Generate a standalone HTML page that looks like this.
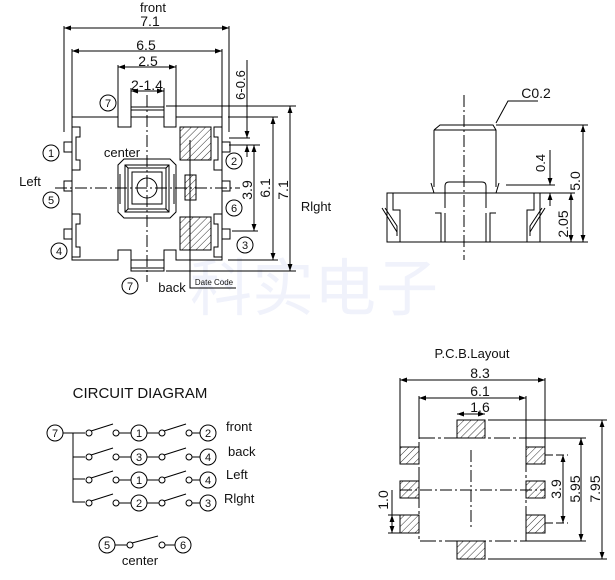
<!DOCTYPE html>
<html><head><meta charset="utf-8"><style>
html,body{margin:0;padding:0;background:#fff}
svg{display:block}
text{font-family:"Liberation Sans","Noto Sans CJK SC",sans-serif;fill:#111}
</style></head><body>
<svg width="615" height="580" viewBox="0 0 615 580" xmlns="http://www.w3.org/2000/svg">
<defs>
<marker id="a" viewBox="0 0 10 10" refX="10" refY="5" markerWidth="7" markerHeight="7" orient="auto-start-reverse"><path d="M0,1.5 L10,5 L0,8.5 z" fill="#000"/></marker>
<pattern id="h" width="5" height="5" patternUnits="userSpaceOnUse" patternTransform="rotate(45)"><rect width="5" height="5" fill="#fff"/><line x1="0" y1="0" x2="0" y2="5" stroke="#333" stroke-width="1"/></pattern>
</defs>
<text x="190" y="310" font-size="62" style="fill:#f0f2fb">科实电子</text>

<g stroke="#000" stroke-width="1" fill="none">
<line x1="64" y1="28" x2="229" y2="28" marker-start="url(#a)" marker-end="url(#a)"/>
<line x1="64" y1="26" x2="64" y2="132"/><line x1="229" y1="26" x2="229" y2="132"/>
<line x1="72" y1="51" x2="222" y2="51" marker-start="url(#a)" marker-end="url(#a)"/>
<line x1="72" y1="49" x2="72" y2="117"/><line x1="222" y1="49" x2="222" y2="117"/>
<line x1="118" y1="67" x2="176" y2="67" marker-start="url(#a)" marker-end="url(#a)"/>
<line x1="118" y1="65" x2="118" y2="117"/><line x1="176" y1="65" x2="176" y2="117"/>
<line x1="131" y1="91" x2="164" y2="91" marker-start="url(#a)" marker-end="url(#a)"/>
<line x1="131" y1="88" x2="131" y2="107"/><line x1="164" y1="88" x2="164" y2="107"/>
<path d="M72,117 H118 V127 H131 V117 H164 V127 H176 V117 H222 V260 H176 V250 H164 V260 H131 V250 H118 V260 H72 Z"/>
<path d="M131,117 V107 H164 V117 M131,260 V271 H164 V260"/>
<line x1="131" y1="110" x2="164" y2="110"/><line x1="131" y1="268" x2="164" y2="268"/>
<path d="M72,127 H80 V137 H76 V160 H80 V170 H72"/>
<path d="M72,214 H80 V224 H76 V247 H80 V257 H72"/>
<rect x="64" y="142" width="8" height="10"/><rect x="64" y="229" width="8" height="10"/><rect x="64" y="181" width="8" height="10"/>
<path d="M222,127 H214 V137 H218 V160 H214 V170 H222"/>
<path d="M222,214 H214 V224 H218 V247 H214 V257 H222"/>
<rect x="222" y="142" width="8" height="10"/><rect x="222" y="229" width="8" height="10"/><rect x="222" y="181" width="8" height="10"/>
<rect x="180" y="127" width="31" height="33" fill="url(#h)"/>
<rect x="180" y="217" width="31" height="33" fill="url(#h)"/>
<rect x="185" y="175" width="11" height="25" fill="url(#h)"/>
<path d="M124,159 H170 L176,165 V212 L170,218 H124 L118,212 V165 Z"/>
<rect x="125" y="165" width="44" height="47"/>
<path d="M128,168 H166 V209 H128 Z M125,165 L128,168 M169,165 L166,168 M125,212 L128,209 M169,212 L166,209"/>
<rect x="132" y="172" width="30" height="32"/>
<circle cx="147" cy="188" r="10"/>
<line x1="120" y1="174" x2="120" y2="204"/><line x1="174" y1="174" x2="174" y2="204"/>
<line x1="55" y1="188" x2="240" y2="188" stroke-dasharray="12,3,2,3"/>
<line x1="147" y1="95" x2="147" y2="282" stroke-dasharray="12,3,2,3"/>
<path d="M190,140 V288 H236"/>
<line x1="229" y1="138" x2="250" y2="138"/><line x1="229" y1="145" x2="260" y2="145"/>
<line x1="247" y1="60" x2="247" y2="138" marker-end="url(#a)"/>
<line x1="247" y1="157" x2="247" y2="145" marker-end="url(#a)"/>
<line x1="254" y1="145" x2="254" y2="231" marker-start="url(#a)" marker-end="url(#a)"/>
<line x1="232" y1="231" x2="258" y2="231"/>
<line x1="228" y1="117" x2="278" y2="117"/><line x1="228" y1="260" x2="278" y2="260"/>
<line x1="273" y1="117" x2="273" y2="260" marker-start="url(#a)" marker-end="url(#a)"/>
<line x1="166" y1="106" x2="296" y2="106"/><line x1="166" y1="271" x2="296" y2="271"/>
<line x1="290" y1="106" x2="290" y2="271" marker-start="url(#a)" marker-end="url(#a)"/>
<circle cx="108" cy="103" r="8"/><circle cx="51" cy="153" r="8"/><circle cx="51" cy="200" r="8"/>
<circle cx="59" cy="251" r="8"/><circle cx="130" cy="286" r="8"/><circle cx="234" cy="161" r="8"/>
<circle cx="234" cy="208" r="8"/><circle cx="245" cy="245" r="8"/>

<path d="M434,130 L440,125 H493 L496,130 V187 M434,130 V187 M434,130 H496"/>
<path d="M387,193 H540 V242 H387 Z"/>
<path d="M445,208 V186 Q445,182 449,182 H482 Q486,182 486,186 V208"/>
<path d="M393,193 V210 H400 V242 M534,193 V210 H527 V242"/>
<path d="M385,208 L397,226 V236 M542,208 L530,226 V236 M382,208 L397,232 M545,208 L530,232"/>
<path d="M435,213 H441 V242 M496,213 H490 V242 M445,213 V242 M486,213 V242"/>
<path d="M431,183 L434,193 M496,193 L499,183"/>
<line x1="464" y1="95" x2="464" y2="260" stroke-dasharray="12,3,2,3"/>
<path d="M496,123 L508,101 H538"/>
<line x1="496" y1="125" x2="588" y2="125"/><line x1="540" y1="242" x2="588" y2="242"/>
<line x1="583" y1="125" x2="583" y2="242" marker-start="url(#a)" marker-end="url(#a)"/>
<line x1="540" y1="193" x2="575" y2="193"/>
<line x1="571" y1="193" x2="571" y2="242" marker-start="url(#a)" marker-end="url(#a)"/>
<line x1="506" y1="185" x2="555" y2="185"/>
<line x1="550" y1="150" x2="550" y2="185" marker-end="url(#a)"/>
<line x1="550" y1="206" x2="550" y2="193" marker-end="url(#a)"/>

<line x1="400" y1="380" x2="545" y2="380" marker-start="url(#a)" marker-end="url(#a)"/>
<line x1="400" y1="378" x2="400" y2="447"/><line x1="545" y1="378" x2="545" y2="447"/>
<line x1="419" y1="398" x2="526" y2="398" marker-start="url(#a)" marker-end="url(#a)"/>
<line x1="419" y1="396" x2="419" y2="438"/><line x1="526" y1="396" x2="526" y2="438"/>
<line x1="457" y1="414" x2="485" y2="414" marker-start="url(#a)" marker-end="url(#a)"/>
<rect x="419" y="438" width="107" height="103" stroke-dasharray="16,3,3,3"/>
<rect x="457" y="420" width="28" height="18" fill="url(#h)"/>
<rect x="457" y="541" width="28" height="18" fill="url(#h)"/>
<rect x="400" y="447" width="19" height="17" fill="url(#h)"/><rect x="400" y="481" width="19" height="17" fill="url(#h)"/><rect x="400" y="515" width="19" height="18" fill="url(#h)"/>
<rect x="526" y="447" width="19" height="17" fill="url(#h)"/><rect x="526" y="481" width="19" height="17" fill="url(#h)"/><rect x="526" y="515" width="19" height="18" fill="url(#h)"/>
<line x1="400" y1="490" x2="545" y2="490" stroke-dasharray="12,3,2,3"/>
<line x1="471" y1="450" x2="471" y2="530" stroke-dasharray="12,3,2,3"/>
<line x1="545" y1="455" x2="568" y2="455" stroke-dasharray="8,3"/><line x1="545" y1="523" x2="568" y2="523" stroke-dasharray="8,3"/>
<line x1="563" y1="455" x2="563" y2="523" marker-start="url(#a)" marker-end="url(#a)"/>
<line x1="526" y1="438" x2="586" y2="438"/><line x1="526" y1="541" x2="586" y2="541"/>
<line x1="581" y1="438" x2="581" y2="541" marker-start="url(#a)" marker-end="url(#a)"/>
<line x1="488" y1="420" x2="607" y2="420"/><line x1="488" y1="559" x2="607" y2="559"/>
<line x1="602" y1="420" x2="602" y2="559" marker-start="url(#a)" marker-end="url(#a)"/>
<line x1="388" y1="515" x2="400" y2="515"/><line x1="388" y1="533" x2="400" y2="533"/>
<line x1="392" y1="515" x2="392" y2="533" marker-start="url(#a)" marker-end="url(#a)"/>
<line x1="392" y1="490" x2="392" y2="515"/>

<circle cx="55" cy="433" r="8"/>
<path d="M63,433 H85 M73,433 V502 H85 M73,457 H85 M73,479 H85"/>
</g>

<g stroke="#000" stroke-width="1" fill="#fff">
<g id="r">
<circle cx="89" cy="433" r="3"/><line x1="91" y1="431" x2="113" y2="424"/><circle cx="116" cy="433" r="3"/><line x1="119" y1="433" x2="131" y2="433"/>
<circle cx="139" cy="433" r="8"/><line x1="147" y1="433" x2="159" y2="433"/>
<circle cx="162" cy="433" r="3"/><line x1="164" y1="431" x2="186" y2="424"/><circle cx="189" cy="433" r="3"/><line x1="192" y1="433" x2="200" y2="433"/>
<circle cx="208" cy="433" r="8"/>
</g>
<use href="#r" y="24"/><use href="#r" y="47"/><use href="#r" y="70"/>
<circle cx="107" cy="545" r="8"/><line x1="115" y1="545" x2="127" y2="545"/><circle cx="130" cy="545" r="3"/><line x1="132" y1="543" x2="158" y2="536"/><circle cx="162" cy="545" r="3"/><line x1="165" y1="545" x2="175" y2="545"/><circle cx="183" cy="545" r="8"/>
</g>

<g font-size="12" text-anchor="middle">
<text x="153" y="12" font-size="13">front</text>
<text x="150" y="26" font-size="14">7.1</text>
<text x="146" y="50" font-size="14">6.5</text>
<text x="148" y="66" font-size="14">2.5</text>
<text x="147" y="90" font-size="14">2-1.4</text>
<text x="122" y="157" font-size="13">center</text>
<text x="30" y="186" font-size="13">Left</text>
<text x="172" y="292" font-size="13">back</text>
<text x="316" y="211" font-size="13">Rlght</text>
<text x="214" y="285" font-size="8">Date Code</text>
<text transform="translate(245,85) rotate(-90)" font-size="13">6-0.6</text>
<text transform="translate(252,190) rotate(-90)" font-size="14">3.9</text>
<text transform="translate(270,188) rotate(-90)" font-size="14">6.1</text>
<text transform="translate(288,190) rotate(-90)" font-size="14">7.1</text>
<g font-size="11">
<text x="108" y="107">7</text><text x="51" y="157">1</text><text x="51" y="204">5</text><text x="59" y="255">4</text>
<text x="130" y="290">7</text><text x="234" y="165">2</text><text x="234" y="212">6</text><text x="245" y="249">3</text>
</g>
<text x="536" y="98" font-size="14">C0.2</text>
<text transform="translate(545,163) rotate(-90)" font-size="13">0.4</text>
<text transform="translate(580,181) rotate(-90)" font-size="14">5.0</text>
<text transform="translate(568,224) rotate(-90)" font-size="14">2.05</text>
<text x="472" y="358" font-size="13">P.C.B.Layout</text>
<text x="480" y="378" font-size="14">8.3</text>
<text x="480" y="396" font-size="14">6.1</text>
<text x="480" y="412" font-size="14">1.6</text>
<text transform="translate(561,489) rotate(-90)" font-size="14">3.9</text>
<text transform="translate(580,489) rotate(-90)" font-size="14">5.95</text>
<text transform="translate(600,489) rotate(-90)" font-size="14">7.95</text>
<text transform="translate(388,500) rotate(-90)" font-size="14">1.0</text>
<text x="140" y="398" font-size="15">CIRCUIT DIAGRAM</text>
<g font-size="11">
<text x="55" y="437">7</text>
<text x="139" y="437">1</text><text x="208" y="437">2</text>
<text x="139" y="461">3</text><text x="208" y="461">4</text>
<text x="139" y="484">1</text><text x="208" y="484">4</text>
<text x="139" y="507">2</text><text x="208" y="507">3</text>
<text x="107" y="549">5</text><text x="183" y="549">6</text>
</g>
<g text-anchor="start" font-size="13">
<text x="226" y="431">front</text><text x="228" y="456">back</text><text x="226" y="479">Left</text><text x="224" y="503">Rlght</text>
</g>
<text x="140" y="565" font-size="13">center</text>
</g>
</svg>
</body></html>
